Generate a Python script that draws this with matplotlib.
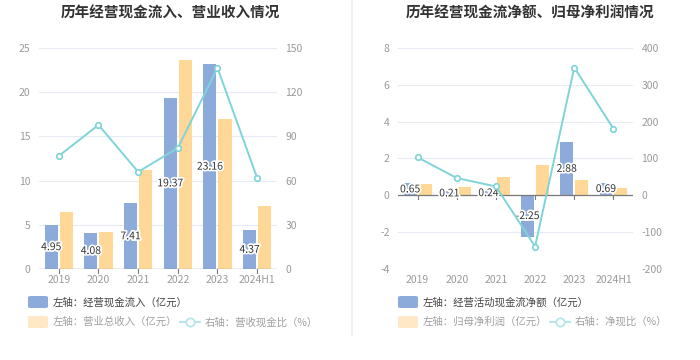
import matplotlib
matplotlib.use('Agg')
import matplotlib.pyplot as plt
import matplotlib.patheffects as pe
from matplotlib.patches import FancyBboxPatch
from matplotlib.lines import Line2D
import numpy as np

plt.rcParams['font.family'] = ['Noto Sans CJK SC', 'DejaVu Sans']
plt.rcParams['axes.unicode_minus'] = False

years = ['2019', '2020', '2021', '2022', '2023', '2024H1']

# left chart
cash_in = [4.95, 4.08, 7.41, 19.37, 23.16, 4.37]
revenue = [6.45, 4.17, 11.24, 23.59, 16.97, 7.07]
cash_ratio = [76.7, 97.8, 65.9, 82.1, 136.5, 61.8]

# right chart
op_cash_net = [0.65, 0.21, 0.24, -2.25, 2.88, 0.69]
net_profit = [0.63, 0.45, 1.02, 1.63, 0.83, 0.38]
net_ratio = [103, 47, 24, -139, 347, 181]

BLUE = '#8DABDA'
ORANGE = '#FFD796'
CYAN = '#7ED4D8'
GRID = '#E6EAF3'
TICK = '#9A9A9A'
AXIS = '#7A7A7A'

fig = plt.figure(figsize=(7, 3.6), dpi=100)


def draw_panel(rect, title, title_x, bars1, bars2, line, ylim, yticks, y2lim, y2ticks):
    ax = fig.add_axes(rect)
    x = np.arange(len(years))
    w = 0.33
    ax.bar(x - 0.19, bars1, w, color=BLUE, zorder=2)
    ax.bar(x + 0.19, bars2, w, color=ORANGE, zorder=2)
    for xi, v in zip(x, bars1):
        ax.text(xi - 0.19, v / 2, f'{v:.2f}', ha='center', va='center', fontsize=7.5,
                color='#333333', zorder=5,
                path_effects=[pe.withStroke(linewidth=2.5, foreground='white')])
    ax.set_xlim(-0.5, len(years) - 0.5)
    ax.set_ylim(*ylim)
    ax.set_yticks(yticks)
    ax.grid(axis='y', color=GRID, linewidth=0.8, zorder=0)
    ax.axhline(0, color=AXIS, linewidth=0.9, zorder=3)
    for s in ax.spines.values():
        s.set_visible(False)
    ax.set_xticks(x)
    ax.set_xticklabels(years)
    ax.tick_params(axis='y', length=0, labelsize=7.5, labelcolor=TICK, pad=6)
    ax.tick_params(axis='x', length=0, labelsize=7.5, labelcolor=TICK, pad=4)
    # small ticks under the zero line
    for xi in x:
        ax.plot([xi, xi], [0, -(ylim[1] - ylim[0]) * 0.018], color=AXIS,
                linewidth=0.8, zorder=3, clip_on=False)

    ax2 = ax.twinx()
    ax2.set_ylim(*y2lim)
    ax2.set_yticks(y2ticks)
    ax2.plot(x, line, color=CYAN, linewidth=1.4, marker='o', markersize=4,
             markerfacecolor='white', markeredgecolor=CYAN, markeredgewidth=1.2, zorder=4)
    for s in ax2.spines.values():
        s.set_visible(False)
    ax2.tick_params(axis='y', length=0, labelsize=7.5, labelcolor=TICK, pad=6)
    fig.text(title_x, 0.965, title, ha='center', va='center', fontsize=10.5,
             fontweight='bold', color='#333333')
    return ax


axL = draw_panel([0.0557, 0.2528, 0.34, 0.6139], '历年经营现金流入、营业收入情况', 0.243,
                 cash_in, revenue, cash_ratio, (0, 25), [0, 5, 10, 15, 20, 25],
                 (0, 150), [0, 30, 60, 90, 120, 150])
axR = draw_panel([0.5686, 0.2528, 0.3357, 0.6139], '历年经营现金流净额、归母净利润情况', 0.757,
                 op_cash_net, net_profit, net_ratio, (-4, 8), [-4, -2, 0, 2, 4, 6, 8],
                 (-200, 400), [-200, -100, 0, 100, 200, 300, 400])

# divider
fig.add_artist(Line2D([0.503, 0.503], [0.07, 1.0], color='#F0F0F0', linewidth=1.2))


def legend_rect(x, y, color, label, tcolor):
    fig.add_artist(FancyBboxPatch((x / 700, 1 - (y + 6) / 360), 20 / 700, 12 / 360,
                                  boxstyle='round,pad=0,rounding_size=0.004',
                                  facecolor=color, edgecolor='none'))
    fig.text((x + 25) / 700, 1 - y / 360, label, ha='left', va='center', fontsize=7.5,
             color=tcolor)


def legend_line(x, y, label, tcolor):
    fig.add_artist(Line2D([x / 700, (x + 20) / 700], [1 - y / 360, 1 - y / 360],
                          color='#B5E6E9', linewidth=1.4))
    fig.add_artist(Line2D([(x + 10) / 700], [1 - y / 360], marker='o', markersize=6,
                          markerfacecolor='white', markeredgecolor='#B5E6E9',
                          markeredgewidth=1.3))
    fig.text((x + 25) / 700, 1 - y / 360, label, ha='left', va='center', fontsize=7.5,
             color=tcolor)


legend_rect(28, 302, BLUE, '左轴：经营现金流入（亿元）', '#444444')
legend_rect(28, 322, '#FFE8C6', '左轴：营业总收入（亿元）', '#A0A0A0')
legend_line(180, 322, '右轴：营收现金比（%）', '#A0A0A0')

legend_rect(398, 302, BLUE, '左轴：经营活动现金流净额（亿元）', '#444444')
legend_rect(398, 322, '#FFE8C6', '左轴：归母净利润（亿元）', '#A0A0A0')
legend_line(550, 322, '右轴：净现比（%）', '#A0A0A0')

fig.savefig('out.png', dpi=100)
